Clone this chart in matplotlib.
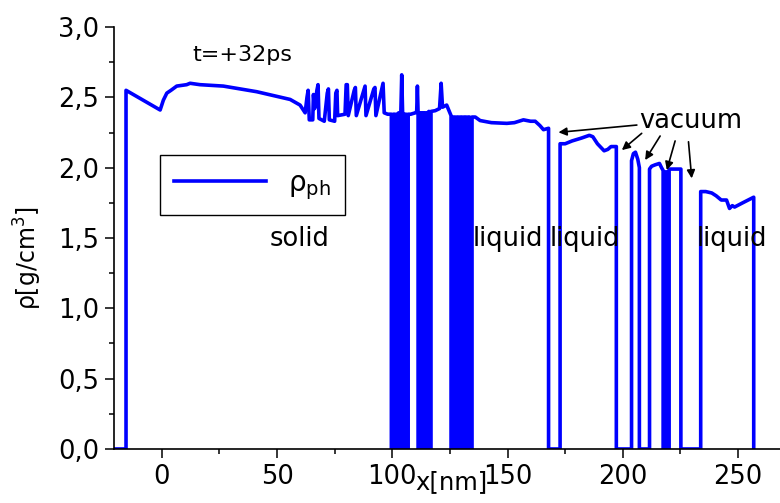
import numpy as np
import matplotlib.pyplot as plt
from matplotlib.ticker import MultipleLocator, FuncFormatter

plt.rcParams['font.family'] = ['DejaVu Sans']
plt.rcParams['mathtext.fontset'] = 'dejavusans'

# density profile rho_ph(x) at t=+32ps, x in nm, rho in g/cm^3
# solid part, smooth
x_solid = [-20.7, -15.5, -15.5, -0.7, 0.7, 2.2, 4.0, 6.5, 10.8, 12.3, 16.6, 26.7,
           41.2, 55.7, 60.0, 62.2]
rho_solid = [0.0, 0.0, 2.55, 2.41, 2.48, 2.53, 2.55, 2.58, 2.59, 2.60, 2.59, 2.58,
             2.54, 2.485, 2.445, 2.39]

# rippled zone before the first cracks
x_ripple = [63.0, 63.5, 64.0, 65.5, 65.8, 66.3, 67.3, 67.8, 68.2, 70.5, 71.8, 72.3,
            72.7, 75.0, 75.5, 76.0, 76.3, 79.5, 80.0, 80.5, 80.9, 83.5, 84.0, 84.4,
            87.8, 88.2, 88.6, 92.0, 92.5, 92.9, 95.5, 96.0, 96.5, 98.0]
rho_ripple = [2.50, 2.55, 2.34, 2.34, 2.52, 2.42, 2.55, 2.59, 2.35, 2.33, 2.53, 2.56,
              2.34, 2.33, 2.53, 2.55, 2.37, 2.38, 2.59, 2.59, 2.37, 2.55, 2.57, 2.37,
              2.56, 2.58, 2.37, 2.56, 2.57, 2.37, 2.56, 2.60, 2.39, 2.38]

# cracked region with many thin voids, then liquid layers separated by vacuum
x_cracks = [99.6, 99.6, 100.5, 100.5, 101.2, 101.2, 102.1, 102.1, 102.8, 102.8, 103.7,
            103.7, 104.1, 104.5, 104.5, 105.4, 105.4, 106.0, 106.0, 106.9, 106.9, 108.0,
            110.0, 110.6, 110.9, 111.2, 111.2, 112.1, 112.1, 112.8, 112.8, 113.7, 113.7,
            114.4, 114.4, 115.3, 115.3, 115.9, 115.9, 116.8, 116.8, 118.6, 120.5, 121.2,
            121.8, 123.6, 124.5, 125.5, 125.5, 126.4, 126.4, 127.1, 127.1, 128.0, 128.0,
            128.7, 128.7, 129.6, 129.6, 130.3, 130.3, 131.2, 131.2, 131.9, 131.9, 132.8,
            132.8, 133.5, 133.5, 134.6, 134.6]
rho_cracks = [2.38, 0.0, 0.0, 2.38, 2.38, 0.0, 0.0, 2.38, 2.39, 0.0, 0.0,
              2.38, 2.66, 2.38, 0.0, 0.0, 2.38, 2.38, 0.0, 0.0, 2.38, 2.38,
              2.39, 2.40, 2.58, 2.39, 0.0, 0.0, 2.39, 2.39, 0.0, 0.0, 2.39,
              2.39, 0.0, 0.0, 2.39, 2.40, 0.0, 0.0, 2.40, 2.405, 2.42, 2.60,
              2.43, 2.445, 2.41, 2.37, 0.0, 0.0, 2.36, 2.36, 0.0, 0.0, 2.36,
              2.36, 0.0, 0.0, 2.36, 2.36, 0.0, 0.0, 2.36, 2.36, 0.0, 0.0,
              2.36, 2.36, 0.0, 0.0, 2.36]

x_liquid = [136.0, 138.1, 143.0, 149.7, 153.0, 156.9, 160.0, 162.0, 164.0, 165.6, 167.8,
            167.8, 172.8, 172.8, 175.0, 178.0, 182.0, 185.5, 187.0, 189.0, 191.9, 193.5,
            194.9, 197.2, 197.2, 203.8, 203.8, 204.6, 205.5, 206.5, 207.2, 207.2, 211.6,
            211.6, 212.5, 214.0, 215.9, 216.8, 217.5, 217.5, 218.4, 218.4, 219.2, 219.2,
            220.1, 220.1, 222.0, 225.2, 225.2, 233.8, 233.8, 236.0, 238.6, 240.5, 242.7,
            245.0, 246.3, 247.5, 248.5, 252.0, 256.8, 256.8]
rho_liquid = [2.36, 2.335, 2.32, 2.315, 2.32, 2.34, 2.33, 2.33, 2.30, 2.27, 2.28,
              0.0, 0.0, 2.17, 2.17, 2.19, 2.21, 2.23, 2.22, 2.17, 2.12, 2.13,
              2.15, 2.15, 0.0, 0.0, 2.05, 2.10, 2.11, 2.06, 2.0, 0.0, 0.0,
              1.99, 2.01, 2.02, 2.03, 2.0, 1.98, 0.0, 0.0, 1.97, 1.97, 0.0,
              0.0, 1.99, 1.99, 1.99, 0.0, 0.0, 1.83, 1.83, 1.82, 1.80, 1.77,
              1.77, 1.71, 1.73, 1.72, 1.75, 1.79, 0.0]

x = np.array(x_solid + x_ripple + x_cracks + x_liquid)
rho = np.array(rho_solid + rho_ripple + rho_cracks + rho_liquid)

# arrows from the "vacuum" label to the voids: (tail x, tail y, head x, head y)
arrow_tails_x = [206.1, 208.2, 216.2, 222.7, 228.5]
arrow_tails_y = [2.303, 2.244, 2.225, 2.19, 2.184]
arrow_heads_x = [172.1, 199.6, 209.7, 219.1, 229.9]
arrow_heads_y = [2.251, 2.125, 2.054, 1.983, 1.924]

fig = plt.figure(figsize=(7.8, 5.03), dpi=100)
ax = fig.add_axes([0.1462, 0.1074, 0.8538, 0.8389])

ax.plot(x, rho, color='#0000ff', lw=2.6, label=r'$\mathregular{\rho_{ph}}$',
        solid_joinstyle='round')

ax.set_xlim(-20.7, 268.2)
ax.set_ylim(0, 3.0)
ax.xaxis.set_major_locator(MultipleLocator(50))
ax.xaxis.set_minor_locator(MultipleLocator(25))
ax.yaxis.set_major_locator(MultipleLocator(0.5))
ax.yaxis.set_minor_locator(MultipleLocator(0.25))
ax.yaxis.set_major_formatter(FuncFormatter(lambda v, p: f'{v:.1f}'.replace('.', ',')))

for s in ['top', 'right']:
    ax.spines[s].set_visible(False)
for s in ['left', 'bottom']:
    ax.spines[s].set_linewidth(1.2)
ax.tick_params(which='major', direction='out', length=6.5, width=1.1, labelsize=18.5, pad=4)
ax.tick_params(which='minor', direction='out', length=3.5, width=1.1)

ax.set_xlabel('x[nm]', fontsize=17.5)
ax.xaxis.set_label_coords(0.507, -0.05)
ax.set_ylabel(r'ρ[g/cm$^3$]', fontsize=17)
ax.yaxis.set_label_coords(-0.105, 0.453)

leg = ax.legend(loc='upper left', bbox_to_anchor=(0.069, 0.697), borderaxespad=0,
                fontsize=20, handlelength=3.3, fancybox=False, framealpha=1,
                edgecolor='black', borderpad=0.5)
leg.get_frame().set_linewidth(1.0)

ax.text(34.9, 2.80, 't=+32ps', fontsize=16, ha='center', va='center')
ax.text(59.6, 1.49, 'solid', fontsize=18.5, ha='center', va='center')
ax.text(150.2, 1.49, 'liquid', fontsize=18.5, ha='center', va='center')
ax.text(183.6, 1.49, 'liquid', fontsize=18.5, ha='center', va='center')
ax.text(247.4, 1.49, 'liquid', fontsize=18.5, ha='center', va='center')
ax.text(229.3, 2.33, 'vacuum', fontsize=18.5, ha='center', va='center')

for tx, ty, hx, hy in zip(arrow_tails_x, arrow_tails_y, arrow_heads_x, arrow_heads_y):
    ax.annotate('', xy=(hx, hy), xytext=(tx, ty),
                arrowprops=dict(arrowstyle='-|>', color='black', lw=1.2,
                                mutation_scale=12, shrinkA=0, shrinkB=0))

fig.savefig('out.png', dpi=100)
